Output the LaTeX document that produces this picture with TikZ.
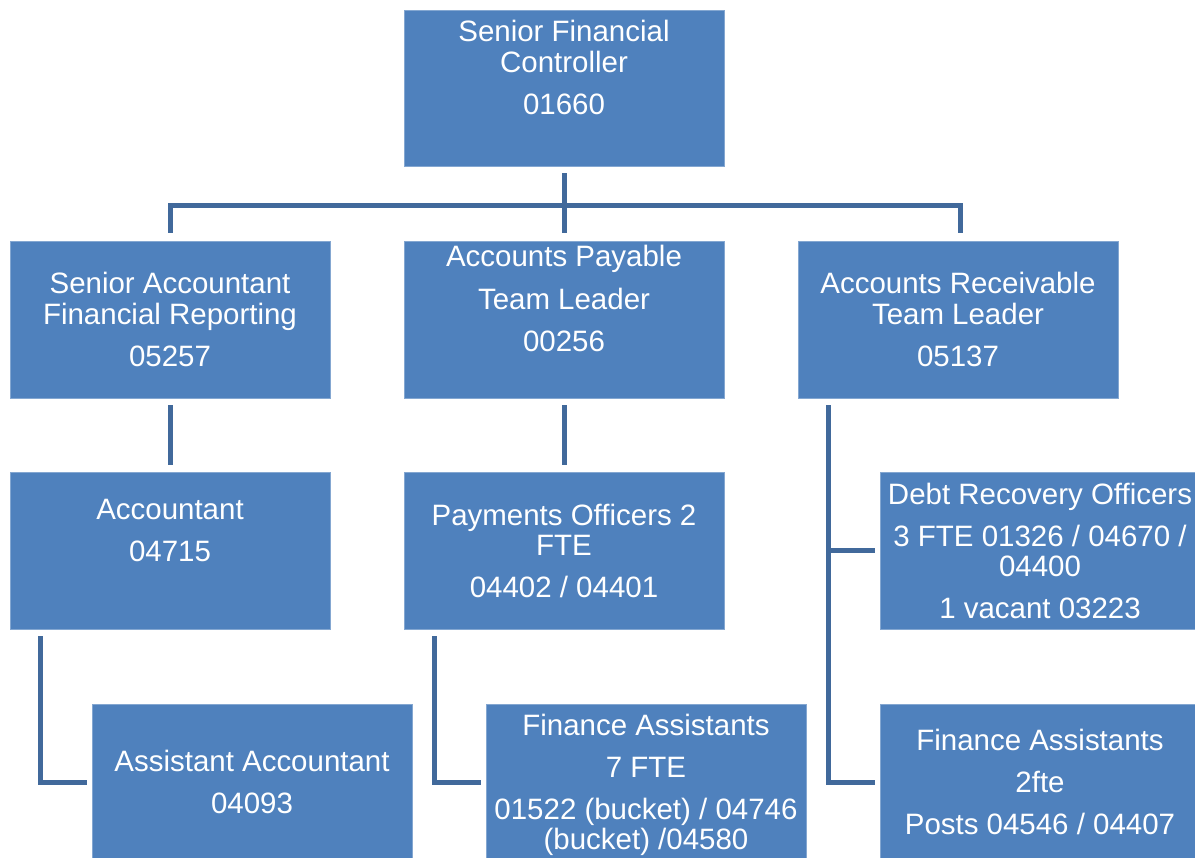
\documentclass[tikz,border=0pt]{standalone}
\usepackage{fontspec}
\setmainfont{Liberation Sans}
\usetikzlibrary{calc}
\definecolor{boxblue}{RGB}{79,129,189}
\definecolor{lineblue}{RGB}{65,105,155}
\begin{document}
\begin{tikzpicture}[x=0.75pt,y=-0.75pt,
  box/.style={rectangle,fill=boxblue,draw=boxblue!70!white,line width=0.6pt,inner sep=0pt,minimum width=240pt,minimum height=117.75pt},
  txt/.style={text=white,inner sep=0pt,anchor=base,font=\fontsize{22.1}{26}\selectfont},
  conn/.style={draw=lineblue,line width=3.75pt}]
\useasboundingbox (0,0) rectangle (1195,857);
\clip (0,0) rectangle (1195,857);
\fill[white] (0,0) rectangle (1195,857);
% boxes
\node[box,minimum height=117pt] (top) at (564,88) {};
\node[box] (sa) at (170,319.5) {};
\node[box] (ap) at (564,319.5) {};
\node[box] (ar) at (958,319.5) {};
\node[box] (acc) at (170,550.5) {};
\node[box] (pay) at (564,550.5) {};
\node[box] (debt) at (1040,550.5) {};
\node[box] (asst) at (252,782.5) {};
\node[box] (fa) at (646,782.5) {};
\node[box] (fa2) at (1040,782.5) {};
% texts
\node[txt] (t1) at (564,41) {Senior Financial};
\node[txt] (t2) at (564,72) {Controller};
\node[txt] (t3) at (564,114) {01660};
\node[txt] (s1) at (170,293) {Senior Accountant};
\node[txt] (s2) at (170,324) {Financial Reporting};
\node[txt] (s3) at (170,366) {05257};
\node[txt] (p1) at (564,266) {Accounts Payable};
\node[txt] (p2) at (564,309) {Team Leader};
\node[txt] (p3) at (564,351) {00256};
\node[txt] (r1) at (958,293) {Accounts Receivable};
\node[txt] (r2) at (958,324) {Team Leader};
\node[txt] (r3) at (958,366) {05137};
\node[txt] (a1) at (170,519) {Accountant};
\node[txt] (a2) at (170,561) {04715};
\node[txt] (y1) at (564,525) {Payments Officers 2};
\node[txt] (y2) at (564,555) {FTE};
\node[txt] (y3) at (564,597) {04402 / 04401};
\node[txt] (d1) at (1040,504) {Debt Recovery Officers};
\node[txt] (d2) at (1040,546) {3 FTE 01326 / 04670 /};
\node[txt] (d3) at (1040,576) {04400};
\node[txt] (d4) at (1040,618) {1 vacant 03223};
\node[txt] (b1) at (252,771) {Assistant Accountant};
\node[txt] (b2) at (252,813) {04093};
\node[txt] (f1) at (646,735) {Finance Assistants};
\node[txt] (f2) at (646,777) {7 FTE};
\node[txt] (f3) at (646,819) {01522 (bucket) / 04746};
\node[txt] (f4) at (646,849) {(bucket) /04580};
\node[txt] (g1) at (1040,750) {Finance Assistants};
\node[txt] (g2) at (1040,792) {2fte};
\node[txt] (g3) at (1040,834) {Posts 04546 / 04407};
% connectors
\draw[conn] ($(top.south)+(0,7)$) -- ($(ap.north)+(0,-8)$);
\draw[conn] ($(sa.north)+(0,-8)$) |- ($(top.south)+(0,39)$) -| ($(ar.north)+(2,-8)$);
\draw[conn] ($(sa.south)+(0,7)$) -- ($(acc.north)+(0,-7)$);
\draw[conn] ($(ap.south)+(0,7)$) -- ($(pay.north)+(0,-7)$);
\draw[conn] ($(acc.south west)+(31,7)$) |- ($(asst.west)+(-5,0)$);
\draw[conn] ($(pay.south west)+(31,7)$) |- ($(fa.west)+(-5,0)$);
\coordinate (arv) at ($(ar.south west)+(31,7)$);
\draw[conn] (arv) |- ($(fa2.west)+(-5,0)$);
\draw[conn] (arv |- debt.west) -- ($(debt.west)+(-5,0)$);
\end{tikzpicture}
\end{document}
